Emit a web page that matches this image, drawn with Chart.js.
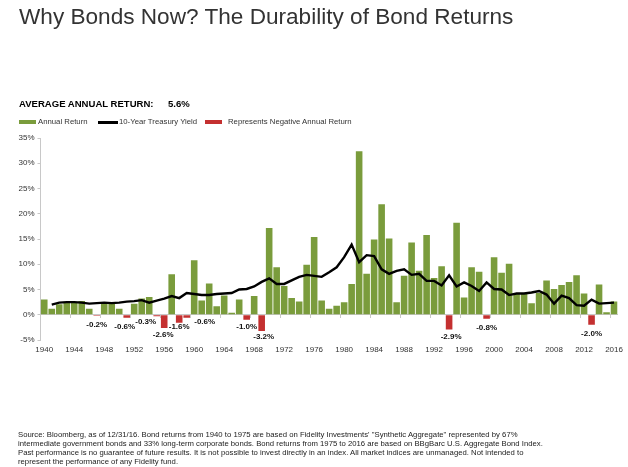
<!DOCTYPE html>
<html lang="en">
<head>
  <meta charset="UTF-8" />
  <title>Why Bonds Now? The Durability of Bond Returns</title>
  <script src="https://cdn.jsdelivr.net/npm/chart.js"></script>
  <style>
    html, body { margin: 0; padding: 0; background: #fff; overflow: hidden; }
    body { width: 628px; height: 467px; position: relative; font-family: "Liberation Sans", Arial, sans-serif; color: #1a1a1a; }
    canvas { position: absolute; left: 0; top: 0; }
    .abs { position: absolute; white-space: nowrap; }
    h1 { margin: 0; left: 19px; top: 3px; font-size: 22.6px; line-height: 28px; font-weight: normal; color: #333; }
    .avg { left: 19px; top: 98px; font-size: 9.55px; line-height: 12px; font-weight: bold; color: #000; }
    .legend { top: 116px; font-size: 7.75px; line-height: 12px; color: #333; }
    .swatch { position: absolute; height: 4px; top: 120px; }
    .foot { left: 18px; top: 431px; font-size: 7.72px; line-height: 8.9px; color: #222; }
  </style>
</head>
<body>
  <canvas id="bondChart" width="628" height="467"></canvas>

  <h1 class="abs">Why Bonds Now? The Durability of Bond Returns</h1>
  <div class="abs avg">AVERAGE ANNUAL RETURN:</div>
  <div class="abs avg" style="left:168px">5.6%</div>

  <div class="swatch" style="left:19px;width:17px;background:#7a9c3c"></div>
  <div class="abs legend" style="left:38px">Annual Return</div>
  <div class="swatch" style="left:98px;width:20px;height:3px;top:121px;background:#000"></div>
  <div class="abs legend" style="left:119px">10-Year Treasury Yield</div>
  <div class="swatch" style="left:205px;width:17px;background:#c43030"></div>
  <div class="abs legend" style="left:228px">Represents Negative Annual Return</div>

  <div class="abs foot">
    Source: Bloomberg, as of 12/31/16. Bond returns from 1940 to 1975 are based on Fidelity Investments' "Synthetic Aggregate" represented by 67%<br>
    intermediate government bonds and 33% long-term corporate bonds. Bond returns from 1975 to 2016 are based on BBgBarc U.S. Aggregate Bond Index.<br>
    Past performance is no guarantee of future results. It is not possible to invest directly in an index. All market indices are unmanaged. Not intended to<br>
    represent the performance of any Fidelity fund.
  </div>

  <script>
    const years = [
      1940, 1941, 1942, 1943, 1944, 1945, 1946, 1947, 1948, 1949,
      1950, 1951, 1952, 1953, 1954, 1955, 1956, 1957, 1958, 1959,
      1960, 1961, 1962, 1963, 1964, 1965, 1966, 1967, 1968, 1969,
      1970, 1971, 1972, 1973, 1974, 1975, 1976, 1977, 1978, 1979,
      1980, 1981, 1982, 1983, 1984, 1985, 1986, 1987, 1988, 1989,
      1990, 1991, 1992, 1993, 1994, 1995, 1996, 1997, 1998, 1999,
      2000, 2001, 2002, 2003, 2004, 2005, 2006, 2007, 2008, 2009,
      2010, 2011, 2012, 2013, 2014, 2015, 2016
    ];
    const annualReturn = [
      3.0, 1.2, 2.1, 2.5, 2.5, 2.7, 1.2, -0.2, 2.4, 2.3,
      1.2, -0.6, 2.2, 3.2, 3.5, -0.3, -2.6, 8.0, -1.6, -0.6,
      10.8, 2.8, 6.2, 1.7, 3.8, 0.4, 3.0, -1.0, 3.7, -3.2,
      17.2, 9.4, 5.7, 3.3, 2.6, 9.9, 15.4, 2.8, 1.2, 1.8,
      2.5, 6.1, 32.4, 8.1, 14.9, 21.9, 15.1, 2.5, 7.7, 14.3,
      8.7, 15.8, 7.3, 9.6, -2.9, 18.2, 3.4, 9.4, 8.5, -0.8,
      11.4, 8.3, 10.1, 4.1, 4.3, 2.3, 4.3, 6.8, 5.1, 5.9,
      6.5, 7.8, 4.2, -2.0, 6.0, 0.5, 2.6
    ];
    const treasuryYield = [
      null, 2.0, 2.4, 2.5, 2.5, 2.4, 2.2, 2.3, 2.4, 2.3,
      2.4, 2.6, 2.7, 2.9, 2.4, 2.8, 3.2, 3.7, 3.3, 4.3,
      4.1, 3.9, 3.9, 4.1, 4.2, 4.3, 5.0, 5.1, 5.6, 6.5,
      7.2, 6.1, 6.1, 6.8, 7.5, 7.9, 7.7, 7.5, 8.4, 9.4,
      11.4, 13.9, 10.4, 11.8, 11.6, 9.0, 8.1, 8.7, 9.0, 7.9,
      8.1, 6.7, 6.7, 5.8, 7.8, 5.6, 6.4, 5.7, 4.7, 6.4,
      5.1, 5.0, 3.9, 4.2, 4.2, 4.4, 4.7, 4.0, 2.2, 3.8,
      3.3, 1.9, 1.8, 3.0, 2.2, 2.3, 2.4
    ];
    const labelledYears = [1947, 1951, 1955, 1956, 1958, 1959, 1967, 1969, 1994, 1999, 2013];
    const labelTexts = ['-0.2%', '-0.6%', '-0.3%', '-2.6%', '-1.6%', '-0.6%', '-1.0%', '-3.2%', '-2.9%', '-0.8%', '-2.0%'];

    // nudges (px) from the bar end, the original moved these by hand to avoid overlaps
    const labelNudgeX = [0, -2, -11, -1, 0, 18, 0, 2, 2, 0, 0];
    const labelNudgeY = [9, 9, 6, 7, 4, 4, 7, 6, 7, 9, 9];

    const green = '#7a9c3c';
    const red = '#c43030';

    const negativeLabels = {
      id: 'negativeLabels',
      afterDatasetsDraw(chart) {
        const { ctx, scales } = chart;
        ctx.save();
        ctx.font = 'bold 8px "Liberation Sans", Arial, sans-serif';
        ctx.fillStyle = '#111';
        ctx.textAlign = 'center';
        ctx.textBaseline = 'middle';
        labelledYears.forEach((yr, i) => {
          const idx = years.indexOf(yr);
          const px = scales.x.getPixelForValue(idx) + labelNudgeX[i];
          const py = scales.y.getPixelForValue(annualReturn[idx]) + labelNudgeY[i];
          ctx.fillText(labelTexts[i], px, py);
        });
        ctx.restore();
      }
    };

    const tickFont = { family: '"Liberation Sans", Arial, sans-serif', size: 8 };

    new Chart(document.getElementById('bondChart').getContext('2d'), {
      type: 'bar',
      data: {
        labels: years,
        datasets: [
          {
            type: 'line',
            label: '10-Year Treasury Yield',
            data: treasuryYield,
            borderColor: '#000',
            borderWidth: 2.4,
            pointRadius: 0,
            tension: 0,
            order: 0
          },
          {
            label: 'Annual Return',
            data: annualReturn,
            backgroundColor: annualReturn.map(v => (v < 0 ? red : green)),
            borderWidth: 0,
            barPercentage: 0.88,
            categoryPercentage: 1,
            order: 1
          }
        ]
      },
      options: {
        responsive: false,
        animation: false,
        layout: { padding: { top: 138, right: 9, left: 0, bottom: 0 } },
        plugins: { legend: { display: false }, tooltip: { enabled: false } },
        scales: {
          x: {
            type: 'category',
            afterFit: s => { s.height = 127; },
            border: { display: false },
            grid: { display: false, tickLength: 0 },
            ticks: {
              font: tickFont,
              color: '#333',
              autoSkip: false,
              maxRotation: 0,
              padding: 5,
              callback: (v, i) => (i % 4 === 0 ? years[i] : '')
            }
          },
          // draws the axis line and small ticks along the zero level
          xZero: {
            type: 'category',
            labels: years,
            position: { y: 0 },
            border: { display: true, color: '#c8c8c8', width: 1 },
            grid: {
              offset: true,
              drawOnChartArea: false,
              tickLength: 3,
              tickColor: c => (c.index % 4 === 0 ? '#c8c8c8' : 'transparent')
            },
            ticks: { display: false, autoSkip: false }
          },
          y: {
            min: -5,
            max: 35,
            afterFit: s => { s.width = 40.5; },
            border: { color: '#c8c8c8', width: 1 },
            grid: { drawOnChartArea: false, tickLength: 3, tickColor: '#c8c8c8' },
            ticks: {
              stepSize: 5,
              font: tickFont,
              color: '#333',
              padding: 3,
              callback: v => v + '%'
            }
          }
        }
      },
      plugins: [negativeLabels]
    });
  </script>
</body>
</html>
